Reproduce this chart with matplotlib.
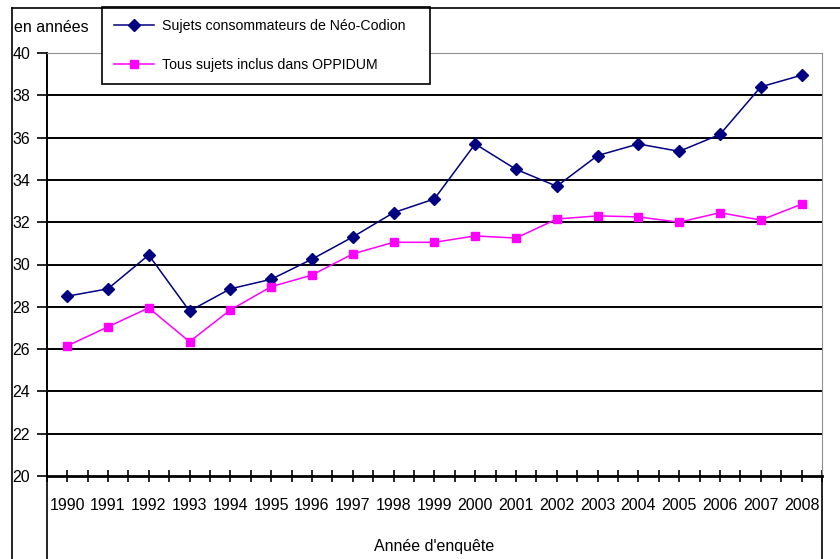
import matplotlib
matplotlib.use("Agg")
import matplotlib.pyplot as plt
from matplotlib.lines import Line2D
import numpy as np

# Données
annees = list(range(1990, 2009))
neo_codion = [28.5, 28.85, 30.45, 27.8, 28.85, 29.3, 30.25, 31.3, 32.45, 33.1,
              35.7, 34.5, 33.7, 35.15, 35.7, 35.35, 36.15, 38.4, 38.95]
oppidum = [26.15, 27.05, 27.95, 26.35, 27.85, 28.95, 29.5, 30.5, 31.05, 31.05,
           31.35, 31.25, 32.15, 32.3, 32.25, 32.0, 32.45, 32.1, 32.85]
y_ticks = [20, 22, 24, 26, 28, 30, 32, 34, 36, 38, 40]

plt.rcParams['font.family'] = ['Liberation Sans', 'DejaVu Sans']
fs = 11.5

W, H = 840, 559
fig = plt.figure(figsize=(W / 100, H / 100), dpi=100)
ax = fig.add_axes([46.7 / W, (H - 476) / H, (822 - 46.7) / W, 423 / H])

ax.plot(annees, neo_codion, color='#000080', lw=1.1, marker='D', ms=6.5,
        label='Sujets consommateurs de Néo-Codion', zorder=3)
ax.plot(annees, oppidum, color='#FF00FF', lw=1.1, marker='s', ms=5.5,
        label='Tous sujets inclus dans OPPIDUM', zorder=3)

ax.set_xlim(1989.5, 2008.5)
ax.set_ylim(20, 40)
ax.set_yticks(y_ticks)
ax.set_yticklabels([str(v) for v in y_ticks], fontsize=fs)
ax.set_xticks(annees)
ax.set_xticklabels([str(a) for a in annees], fontsize=fs)
ax.set_xticks(np.arange(1989.5, 2009, 1), minor=True)

for y in y_ticks[1:-1]:
    ax.axhline(y, color='black', lw=1.4, zorder=1)

ax.spines['top'].set_color('#909090')
ax.spines['right'].set_color('#909090')
ax.spines['left'].set_color('black')
ax.spines['left'].set_linewidth(1.4)
ax.spines['bottom'].set_color('black')
ax.spines['bottom'].set_linewidth(2)

ax.tick_params(axis='y', direction='out', length=7, width=1.2, pad=5, right=False)
ax.tick_params(axis='x', which='both', direction='inout', length=9, width=1.2, pad=11)

ax.set_xlabel("Année d'enquête", fontsize=fs, labelpad=19)

leg = ax.legend(loc='center', bbox_to_anchor=(102 / W, 1 - 83 / H, (430 - 102) / W, 75 / H),
                bbox_transform=fig.transFigure, mode='expand', fancybox=False,
                edgecolor='black', framealpha=1, fontsize=10.2, handlelength=2.8,
                handletextpad=0.6, labelspacing=1.75, borderaxespad=0, borderpad=0.85)
leg.get_frame().set_linewidth(1.2)

fig.text(14 / W, 1 - 27 / H, 'en années', fontsize=fs, va='center', ha='left')

# cadre extérieur et traits sous l'axe
fig.add_artist(Line2D([12 / W, 1], [1 - 8 / H, 1 - 8 / H], color='black', lw=1.2))
fig.add_artist(Line2D([12 / W, 12 / W], [0, 1 - 8 / H], color='black', lw=1.2))
fig.add_artist(Line2D([46.7 / W, 46.7 / W], [0, (H - 476) / H], color='black', lw=1.2))
fig.add_artist(Line2D([822 / W, 822 / W], [0, (H - 476) / H], color='black', lw=1.2))

fig.savefig('out.png', dpi=100)
